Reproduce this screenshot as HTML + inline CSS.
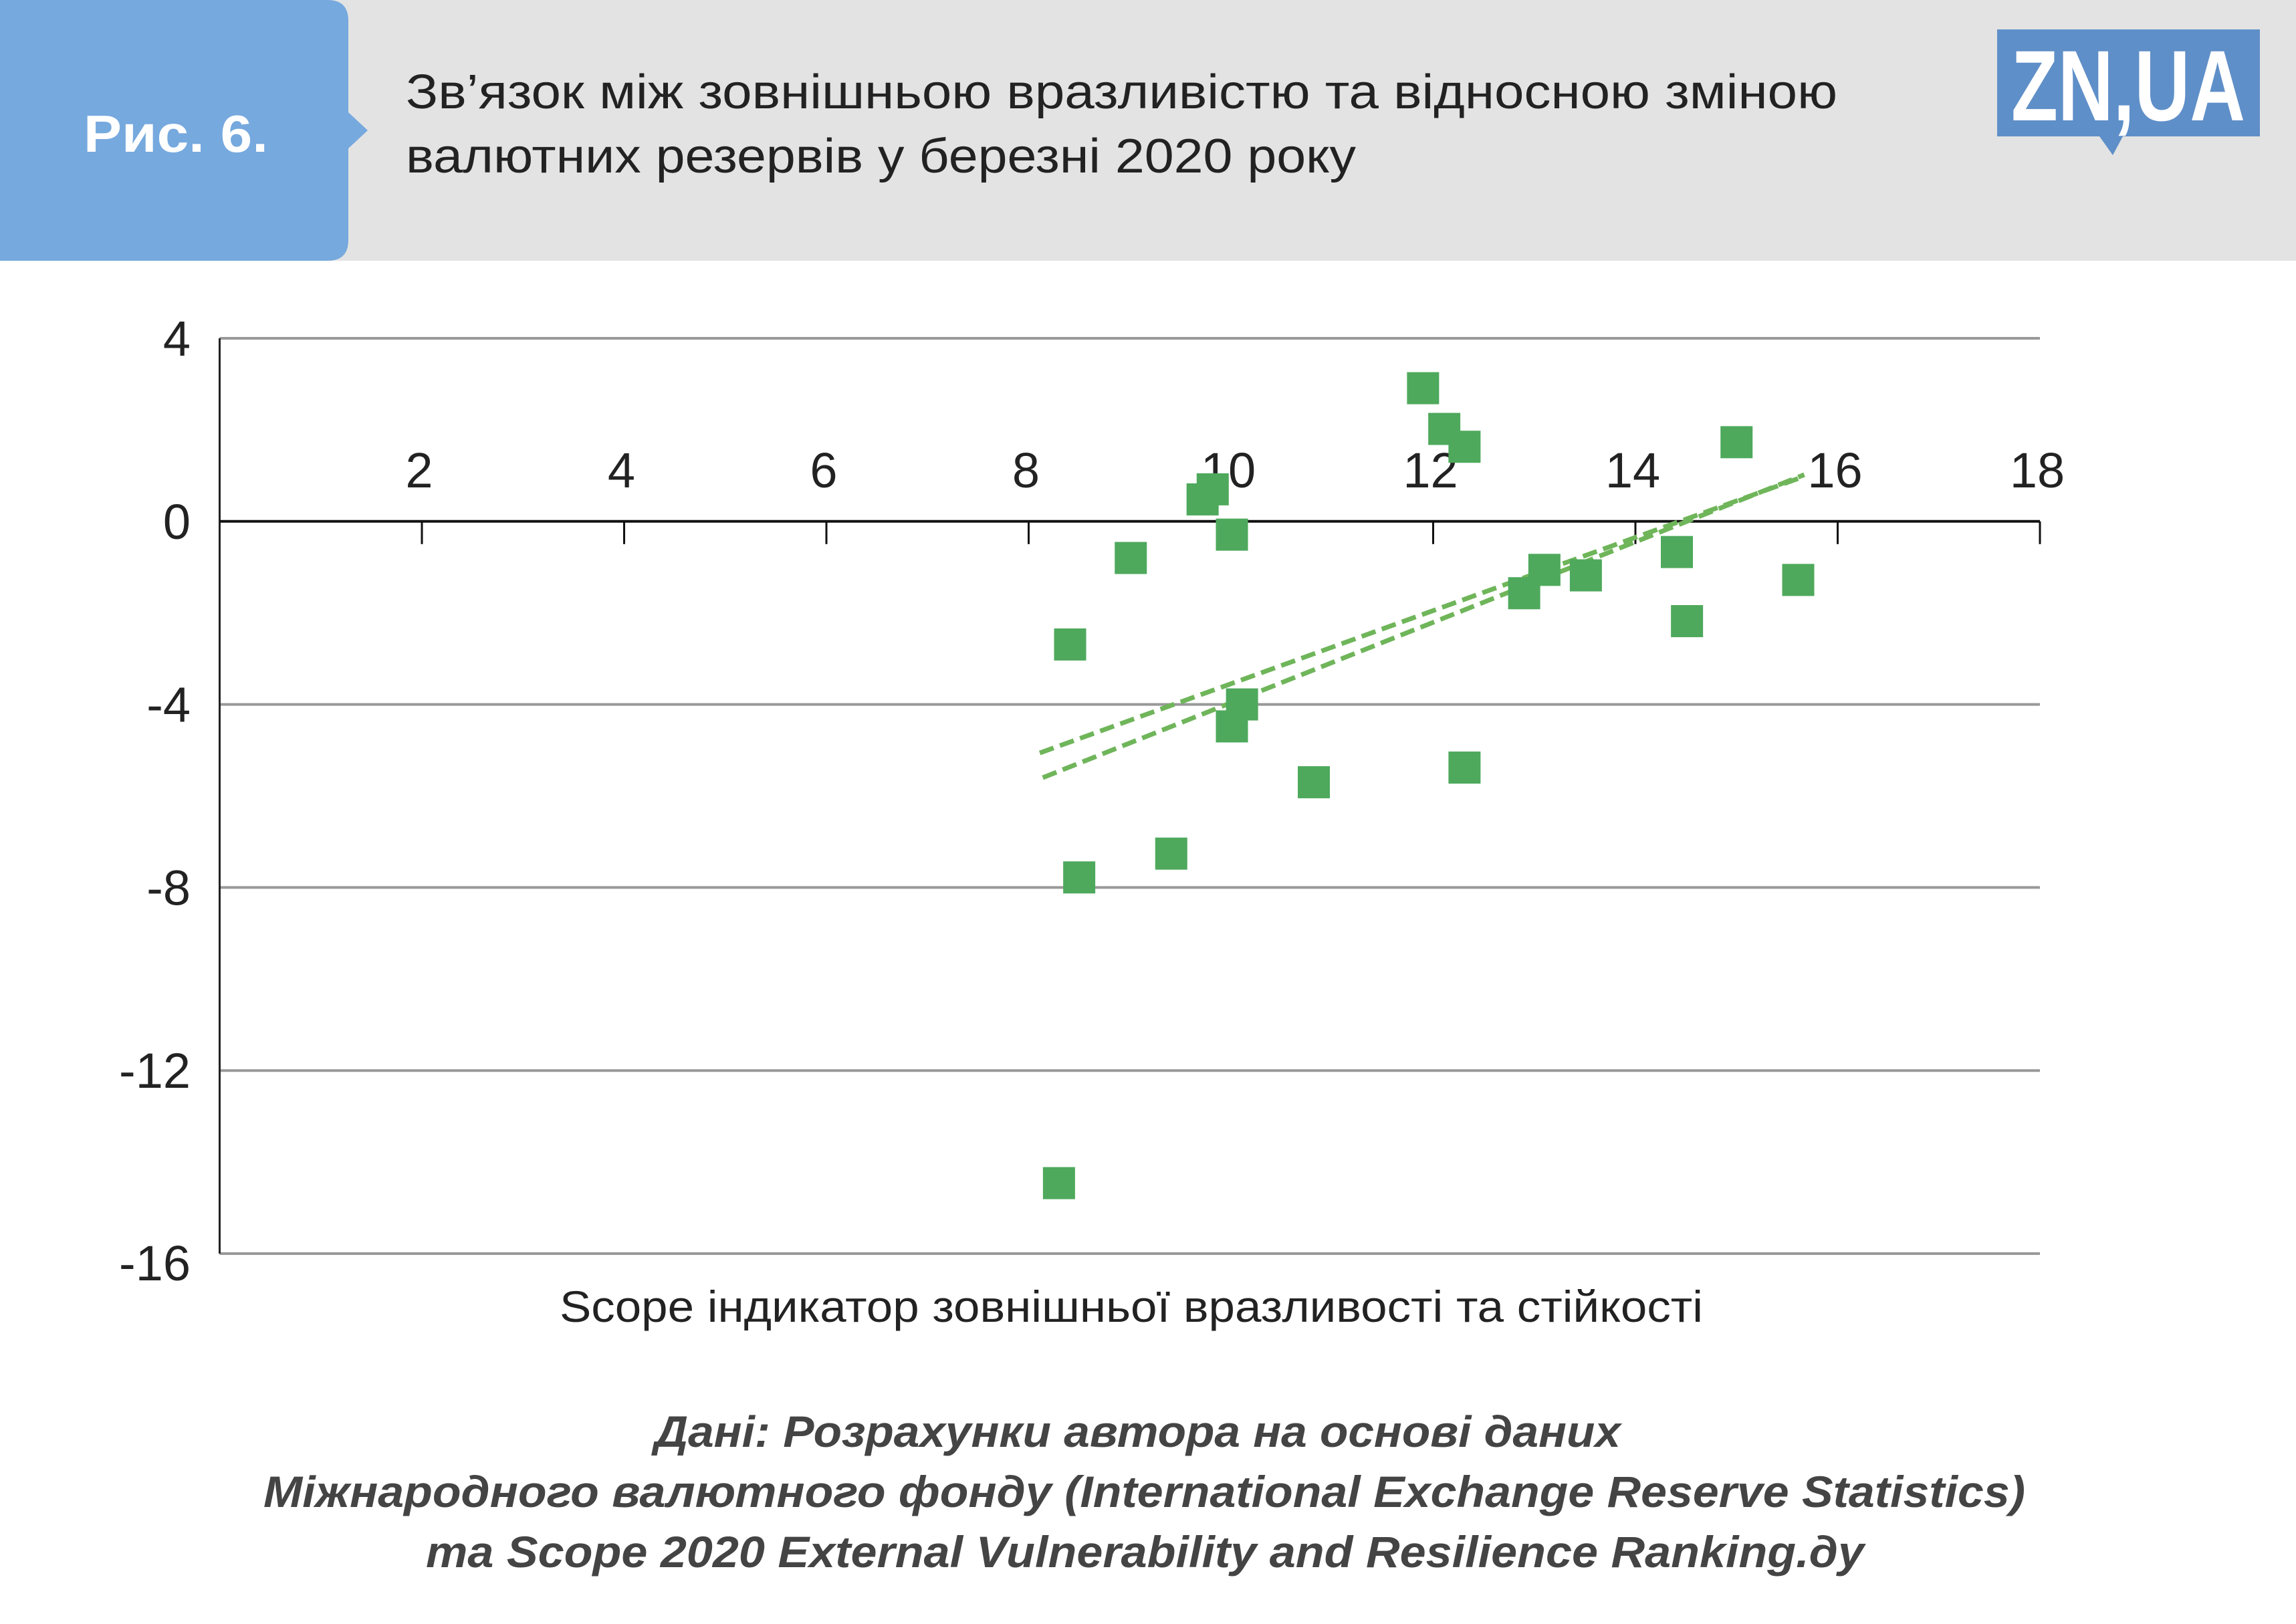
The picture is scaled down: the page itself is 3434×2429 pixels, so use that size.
<!DOCTYPE html>
<html><head><meta charset="utf-8">
<style>
html,body{margin:0;padding:0;background:#fff;}
svg{display:block;font-family:"Liberation Sans","DejaVu Sans",sans-serif;}
</style></head>
<body>
<svg id="chart" width="3434" height="2429" viewBox="0 0 3434 2429" xmlns="http://www.w3.org/2000/svg">
  <rect x="0" y="0" width="3434" height="390" fill="#e3e3e3"/>
  <path d="M0 0 H490 Q521 0 521 31 V168 L550 195 L521 222 V359 Q521 390 490 390 H0 Z" fill="#76a9de"/>
  <text x="125" y="227" font-size="78" font-weight="bold" fill="#fff" textLength="276" lengthAdjust="spacingAndGlyphs">Рис. 6.</text>
  <text x="607" y="162" font-size="72" fill="#222" textLength="2141" lengthAdjust="spacingAndGlyphs">Зв’язок між зовнішньою вразливістю та відносною зміною</text>
  <text x="607" y="258" font-size="72" fill="#222" textLength="1421" lengthAdjust="spacingAndGlyphs">валютних резервів у березні 2020 року</text>
  <g>
    <rect x="2987" y="44" width="393" height="160" fill="#5f8fc8"/>
    <path d="M3140 204 L3160 232 L3175 204 Z" fill="#5f8fc8"/>
    <text x="3183" y="180" font-size="150" font-weight="bold" fill="#fff" text-anchor="middle" textLength="350" lengthAdjust="spacingAndGlyphs">ZN,UA</text>
  </g>
  <g id="grid"></g>
  <g id="axes"></g>
  <g id="trends"></g>
  <g id="points"></g>
  <text x="837" y="1977" font-size="66" fill="#222" textLength="1710" lengthAdjust="spacingAndGlyphs">Scope індикатор зовнішньої вразливості та стійкості</text>
  <g font-size="66" font-style="italic" font-weight="bold" fill="#444">
    <text x="979" y="2164" textLength="1445" lengthAdjust="spacingAndGlyphs">Дані: Розрахунки автора на основі даних</text>
    <text x="394" y="2254" textLength="2635" lengthAdjust="spacingAndGlyphs">Міжнародного валютного фонду (International Exchange Reserve Statistics)</text>
    <text x="637" y="2344" textLength="2151" lengthAdjust="spacingAndGlyphs">та Scope 2020 External Vulnerability and Resilience Ranking.ду</text>
  </g>
</svg>
<script>
const xTicks = [2,4,6,8,10,12,14,16,18];
const yTicks = [4,0,-4,-8,-12,-16];
const xVals = [11.9,12.11,12.31,15.0,9.82,9.72,10.01,9.01,8.41,12.9,13.1,13.51,14.41,14.51,15.61,10.11,10.01,10.82,12.31,9.41,8.5,8.3];
const yVals = [2.91,2.02,1.63,1.73,0.7,0.48,-0.29,-0.8,-2.69,-1.57,-1.06,-1.18,-0.67,-2.18,-1.28,-4.0,-4.48,-5.7,-5.38,-7.26,-7.78,-14.46];
const trendX = [[8.11,15.64],[8.14,15.67]];
const trendY = [[-5.06,0.96],[-5.6,1.02]];

const X0=328.5, X1=3051, Y0=506, Y1=1875;
const sx = v => X0 + v/18*(X1-X0);
const sy = v => Y0 + (4-v)/20*(Y1-Y0);
const NS="http://www.w3.org/2000/svg";
function mk(tag, attrs, parent){const e=document.createElementNS(NS,tag);for(const k in attrs)e.setAttribute(k,attrs[k]);parent.appendChild(e);return e;}
const grid=document.getElementById('grid'), axes=document.getElementById('axes'), pts=document.getElementById('points'), tr=document.getElementById('trends');

yTicks.forEach(t=>{
  if(t!==0){const l=mk('line',{x1:X0,x2:X1,y1:sy(t),y2:sy(t),stroke:'#999','stroke-width':4},grid);
  
  }
  const tx=mk('text',{x:285,y:sy(t)+(t===-16?40:26),'font-size':74,'text-anchor':'end',fill:'#222'},axes);
  tx.textContent=t;
  
  
});
const ya=mk('line',{x1:X0,x2:X0,y1:Y0,y2:Y1,stroke:'#222','stroke-width':3},axes);


const xa=mk('line',{x1:X0,x2:X1,y1:sy(0),y2:sy(0),stroke:'#111','stroke-width':4},axes);


xTicks.forEach(t=>{
  const tk=mk('line',{x1:sx(t),x2:sx(t),y1:sy(0),y2:sy(0)+34,stroke:'#111','stroke-width':3},axes);
  
  
  const tx=mk('text',{x:sx(t)-4,y:729,'font-size':74,'text-anchor':'middle',fill:'#222'},axes);
  tx.textContent=t;
  
  
});
trendX.forEach((xs,i)=>{
  const l=mk('line',{x1:sx(xs[0]),y1:sy(trendY[i][0]),x2:sx(xs[1]),y2:sy(trendY[i][1]),stroke:'#6fb55a','stroke-width':7,'stroke-dasharray':'22 10'},tr);
  
  
});
xVals.forEach((x,i)=>{
  const r=mk('rect',{x:sx(x)-24,y:sy(yVals[i])-24,width:48,height:48,fill:'#4ea95c'},pts);
  
  
});
</script>
</body></html>
